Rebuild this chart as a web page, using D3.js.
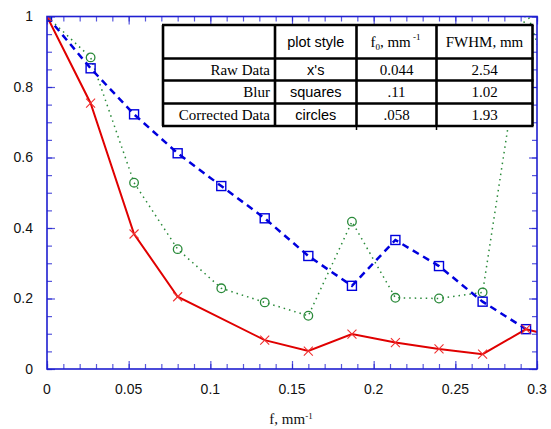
<!DOCTYPE html>
<html><head><meta charset="utf-8">
<script src="https://cdn.jsdelivr.net/npm/d3@7"></script>
<style>
html,body{margin:0;padding:0;background:#fff;}
svg{display:block;}
</style>
</head><body>
<svg id="chart" width="551" height="429"></svg>
<script>
// ---- data ----
const freq = [0, 0.0267, 0.0533, 0.08, 0.1067, 0.1333, 0.16, 0.1867, 0.2133, 0.24, 0.2667, 0.2933, 0.32];
const rawData = [1.0, 0.754, 0.383, 0.205, null, 0.082, 0.051, 0.099, 0.075, 0.057, 0.042, 0.113, 0.08];
const blurData = [1.0, 0.853, 0.7225, 0.612, 0.519, 0.4275, 0.3206, 0.236, 0.366, 0.292, 0.191, 0.113, null];
const correctedData = [1.0, 0.884, 0.5285, 0.340, 0.229, 0.189, 0.151, 0.418, 0.202, 0.200, 0.2175, 1.02, 0.64];
const xTickLabels = ["0", "0.05", "0.1", "0.15", "0.2", "0.25", "0.3"];
const yTickLabels = ["0", "0.2", "0.4", "0.6", "0.8", "1"];
const tableHeader = ["", "plot style", "f0", "FWHM, mm"];
const rowNames = ["Raw Data", "Blur", "Corrected Data"];
const plotStyles = ["x's", "squares", "circles"];
const f0Values = ["0.044", ".11", ".058"];
const fwhmValues = ["2.54", "1.02", "1.93"];

// ---- layout ----
const svg = d3.select("#chart");
const L = 47, R = 537, T = 16.5, B = 369;
const x = d3.scaleLinear().domain([0, 0.3]).range([L, R]);
const y = d3.scaleLinear().domain([0, 1]).range([B, T]);
const axisColor = "#1f1fd0";
const sans = "'Liberation Sans', Arial, sans-serif";
const serif = "'Liberation Serif', 'Times New Roman', serif";

svg.append("defs").append("clipPath").attr("id", "plotclip")
  .append("rect").attr("x", L).attr("y", T).attr("width", R - L).attr("height", B - T);

function styleAxis(g) {
  g.select(".domain").remove();
  g.selectAll(".tick line").attr("stroke", axisColor).attr("stroke-width", 1.2).attr("stroke-opacity", 0.75);
  g.selectAll("text").remove();
}
const xMinor = d3.range(0, 31).map(i => i / 100);
const xMajor = xTickLabels.map(Number);
const yMinor = d3.range(0, 21).map(i => i / 20);
const yMajor = yTickLabels.map(Number);

svg.append("g").attr("transform", `translate(0,${B})`).call(d3.axisBottom(x).tickValues(xMinor).tickSize(-5)).call(styleAxis);
svg.append("g").attr("transform", `translate(0,${B})`).call(d3.axisBottom(x).tickValues(xMajor).tickSize(-8)).call(styleAxis);
svg.append("g").attr("transform", `translate(0,${T})`).call(d3.axisTop(x).tickValues(xMinor).tickSize(-5)).call(styleAxis);
svg.append("g").attr("transform", `translate(0,${T})`).call(d3.axisTop(x).tickValues(xMajor).tickSize(-8)).call(styleAxis);
svg.append("g").attr("transform", `translate(${L},0)`).call(d3.axisLeft(y).tickValues(yMinor).tickSize(-5)).call(styleAxis);
svg.append("g").attr("transform", `translate(${L},0)`).call(d3.axisLeft(y).tickValues(yMajor).tickSize(-8)).call(styleAxis);
svg.append("g").attr("transform", `translate(${R},0)`).call(d3.axisRight(y).tickValues(yMinor).tickSize(-5)).call(styleAxis);
svg.append("g").attr("transform", `translate(${R},0)`).call(d3.axisRight(y).tickValues(yMajor).tickSize(-8)).call(styleAxis);

svg.append("g").selectAll("text").data(xTickLabels).join("text")
  .attr("x", d => x(+d)).attr("y", 394)
  .attr("text-anchor", "middle").attr("font-family", sans).attr("font-size", 14).attr("fill", "#111")
  .text(d => d);
svg.append("g").selectAll("text").data(yTickLabels).join("text")
  .attr("x", 33).attr("y", d => y(+d)).attr("dy", "0.35em")
  .attr("text-anchor", "end").attr("font-family", sans).attr("font-size", 14).attr("fill", "#111")
  .text(d => d);

const xt = svg.append("text").attr("x", 291).attr("y", 424).attr("text-anchor", "middle")
  .attr("font-family", serif).attr("font-size", 15).attr("fill", "#111");
xt.append("tspan").text("f, mm");
xt.append("tspan").attr("dy", -5).attr("font-size", 9).text("-1");

// ---- series ----
const plot = svg.append("g").attr("clip-path", "url(#plotclip)");
function pts(vals) { return freq.map((f, i) => [f, vals[i]]).filter(d => d[1] !== null); }
const line = d3.line().x(d => x(d[0])).y(d => y(d[1]));

const gP = pts(correctedData), bP = pts(blurData), rP = pts(rawData);

plot.append("path").attr("d", line(gP)).attr("fill", "none").attr("stroke", "#2a8a3a")
  .attr("stroke-width", 1.5).attr("stroke-dasharray", "1.5,4");
plot.append("path").attr("d", line(bP)).attr("fill", "none").attr("stroke", "#0000dd")
  .attr("stroke-width", 2.5).attr("stroke-dasharray", "7,5");
plot.append("path").attr("d", line(rP)).attr("fill", "none").attr("stroke", "#e00000")
  .attr("stroke-width", 2);

plot.append("g").selectAll("circle").data(gP).join("circle")
  .attr("cx", d => x(d[0])).attr("cy", d => y(d[1])).attr("r", 4.3)
  .attr("fill", "none").attr("stroke", "#2a8a3a").attr("stroke-width", 1.3);
plot.append("g").selectAll("rect").data(bP).join("rect")
  .attr("x", d => x(d[0]) - 4.5).attr("y", d => y(d[1]) - 4.5).attr("width", 9).attr("height", 9)
  .attr("fill", "none").attr("stroke", "#0000dd").attr("stroke-width", 1.4);
plot.append("g").selectAll("path").data(rP).join("path")
  .attr("d", d => { const cx = x(d[0]), cy = y(d[1]), s = 4.5; return `M${cx-s},${cy-s}L${cx+s},${cy+s}M${cx-s},${cy+s}L${cx+s},${cy-s}`; })
  .attr("stroke", "#f03030").attr("stroke-width", 1.1);

svg.append("rect").attr("x", L).attr("y", T).attr("width", R - L).attr("height", B - T)
  .attr("fill", "none").attr("stroke", axisColor).attr("stroke-width", 1.6);

// ---- table ----
const colX = [163, 275, 356.5, 436.5, 532.5];
const rowY = [25, 58.5, 80.5, 103.5, 126];
const tg = svg.append("g");
tg.append("rect").attr("x", colX[0]).attr("y", rowY[0]).attr("width", colX[4] - colX[0]).attr("height", rowY[4] - rowY[0])
  .attr("fill", "#fff");
tg.selectAll("line.stub").data([colX[2], colX[3]]).join("line").attr("class", "stub")
  .attr("x1", d => d).attr("x2", d => d).attr("y1", rowY[4]).attr("y2", rowY[4] + 4)
  .attr("stroke", "#000").attr("stroke-width", 1.5);
tg.selectAll("line.h").data(rowY).join("line").attr("class", "h")
  .attr("x1", colX[0] - 1).attr("x2", colX[4] + 1).attr("y1", d => d).attr("y2", d => d)
  .attr("stroke", "#000").attr("stroke-width", 2.6);
tg.selectAll("line.v").data(colX).join("line").attr("class", "v")
  .attr("x1", d => d).attr("x2", d => d).attr("y1", rowY[0]).attr("y2", rowY[4])
  .attr("stroke", "#000").attr("stroke-width", 2.6);

const hy = 47;
tg.append("text").attr("x", (colX[1] + colX[2]) / 2).attr("y", hy).attr("text-anchor", "middle")
  .attr("font-family", sans).attr("font-size", 14.5).text(tableHeader[1]);
const f0t = tg.append("text").attr("x", (colX[2] + colX[3]) / 2 - 1).attr("y", hy).attr("text-anchor", "middle")
  .attr("font-family", serif).attr("font-size", 15);
f0t.append("tspan").text("f");
f0t.append("tspan").attr("dy", 3).attr("font-size", 9).text("0");
f0t.append("tspan").attr("dy", -3).text(", mm");
f0t.append("tspan").attr("dy", -7).attr("font-size", 9).text(" -1");
tg.append("text").attr("x", (colX[3] + colX[4]) / 2).attr("y", hy).attr("text-anchor", "middle")
  .attr("font-family", serif).attr("font-size", 15).text(tableHeader[3]);

rowNames.forEach((name, i) => {
  const cy = (rowY[i + 1] + rowY[i + 2]) / 2 + 5;
  tg.append("text").attr("x", colX[1] - 5).attr("y", cy).attr("text-anchor", "end")
    .attr("font-family", serif).attr("font-size", 15).text(name);
  tg.append("text").attr("x", (colX[1] + colX[2]) / 2).attr("y", cy).attr("text-anchor", "middle")
    .attr("font-family", sans).attr("font-size", 14.5).text(plotStyles[i]);
  tg.append("text").attr("x", (colX[2] + colX[3]) / 2).attr("y", cy).attr("text-anchor", "middle")
    .attr("font-family", serif).attr("font-size", 15).text(f0Values[i]);
  tg.append("text").attr("x", (colX[3] + colX[4]) / 2).attr("y", cy).attr("text-anchor", "middle")
    .attr("font-family", serif).attr("font-size", 15).text(fwhmValues[i]);
});
</script>
</body></html>
